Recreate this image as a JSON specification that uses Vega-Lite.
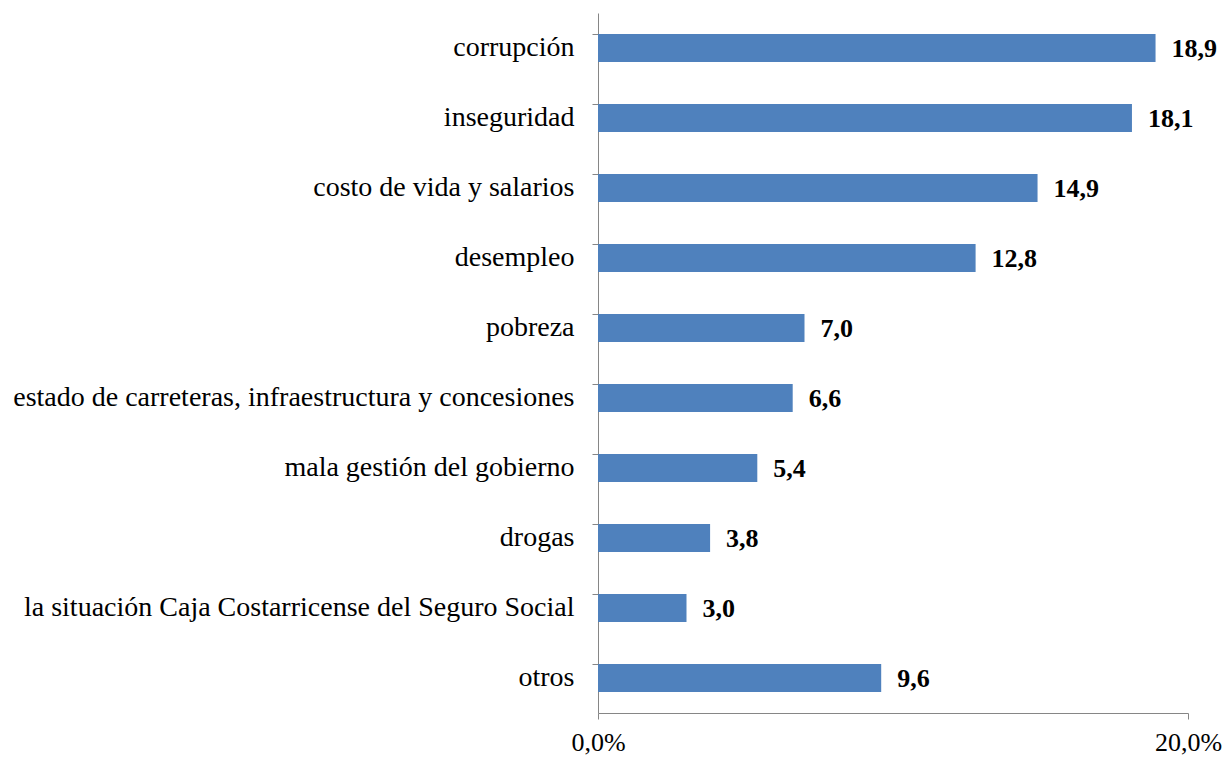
{
  "$schema": "https://vega.github.io/schema/vega-lite/v6.json",
  "width": 590,
  "height": 700,
  "padding": {"left": 598, "top": 13, "right": 35, "bottom": 46},
  "autosize": {"type": "none"},
  "background": "white",
  "config": {
    "view": {"stroke": null},
    "font": "Times New Roman",
    "locale": {"number": {"decimal": ",", "thousands": ".", "grouping": [3], "currency": ["", " €"]}}
  },
  "data": {
    "values": [
      {"tema": "corrupción", "pct": 18.9},
      {"tema": "inseguridad", "pct": 18.1},
      {"tema": "costo de vida y salarios", "pct": 14.9},
      {"tema": "desempleo", "pct": 12.8},
      {"tema": "pobreza", "pct": 7.0},
      {"tema": "estado de carreteras, infraestructura y concesiones", "pct": 6.6},
      {"tema": "mala gestión del gobierno", "pct": 5.4},
      {"tema": "drogas", "pct": 3.8},
      {"tema": "la situación Caja Costarricense del Seguro Social", "pct": 3.0},
      {"tema": "otros", "pct": 9.6}
    ]
  },
  "encoding": {
    "y": {
      "field": "tema", "type": "nominal", "sort": null, "title": null,
      "scale": {"paddingInner": 0.6, "paddingOuter": 0.3},
      "axis": {
        "bandPosition": 0, "domainColor": "#868686", "tickColor": "#868686",
        "tickSize": 6, "labelPadding": 18, "labelFontSize": 28, "labelColor": "black",
        "labelFont": "Times New Roman", "labelLimit": 0
      }
    },
    "x": {
      "field": "pct", "type": "quantitative", "title": null,
      "scale": {"domain": [0, 20], "nice": false},
      "axis": {
        "values": [0, 20], "grid": false, "domainColor": "#868686", "tickColor": "#868686",
        "tickSize": 6, "labelPadding": 10, "labelFontSize": 26, "labelColor": "black",
        "labelFont": "Times New Roman", "labelExpr": "format(datum.value, '.1f') + '%'",
        "labelFlush": false, "labelOverlap": false
      }
    }
  },
  "layer": [
    {"mark": {"type": "bar", "color": "#4F81BD"}},
    {
      "mark": {"type": "text", "align": "left", "baseline": "middle", "dx": 16, "dy": 1, "fontSize": 26, "fontWeight": "bold", "font": "Times New Roman", "color": "black"},
      "encoding": {"text": {"field": "pct", "type": "quantitative", "format": ".1f"}}
    }
  ]
}
